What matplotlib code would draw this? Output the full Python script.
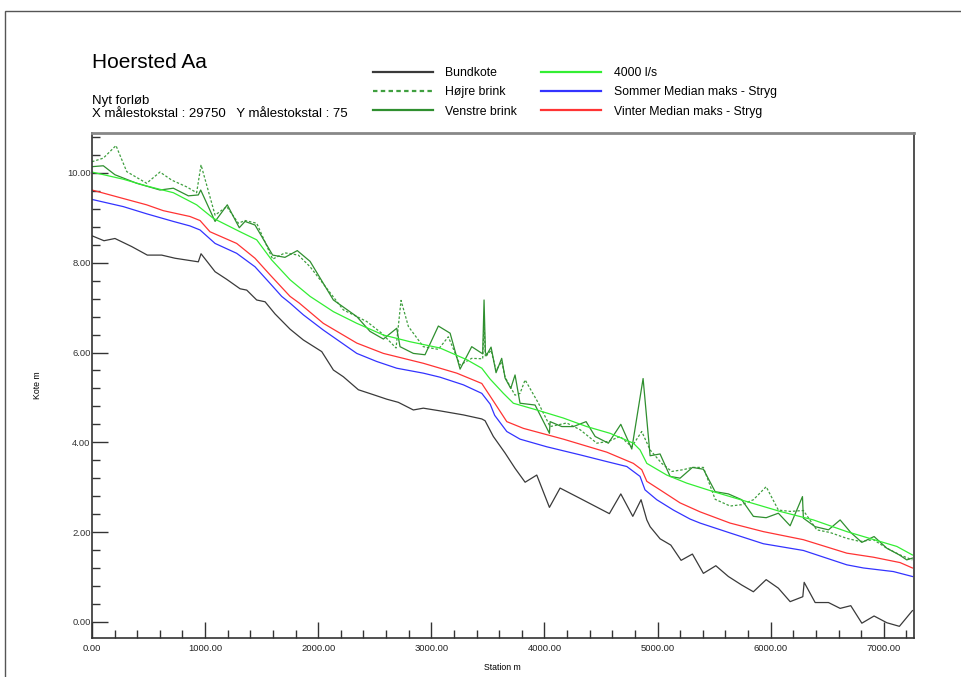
import numpy as np
import matplotlib
matplotlib.use("Agg")
import matplotlib.pyplot as plt
from matplotlib.ticker import MultipleLocator, FormatStrFormatter
from matplotlib.patches import Rectangle

plt.rcParams['font.family'] = ['Liberation Sans', 'DejaVu Sans']

# bundkote (bed level) along the river
bund_st = [0, 106, 203, 351, 489, 616, 734, 837, 940, 964, 1088, 1191, 1309, 1368, 1456, 1530,
           1618, 1751, 1868, 2031, 2134, 2222, 2355, 2488, 2606, 2708, 2841, 2929, 3077, 3283,
           3446, 3475, 3548, 3652, 3740, 3829, 3932, 4044, 4138, 4315, 4574, 4675, 4781, 4854,
           4905, 4934, 5022, 5117, 5208, 5308, 5405, 5515, 5626, 5744, 5847, 5960, 6068, 6172,
           6284, 6296, 6393, 6511, 6614, 6708, 6806, 6914, 7027, 7138, 7253]
bund_z = [8.60, 8.49, 8.54, 8.36, 8.17, 8.17, 8.10, 8.06, 8.02, 8.20, 7.80, 7.63, 7.42, 7.39, 7.17, 7.13,
          6.86, 6.52, 6.28, 6.02, 5.61, 5.46, 5.17, 5.06, 4.96, 4.89, 4.72, 4.76, 4.70, 4.61,
          4.52, 4.48, 4.13, 3.76, 3.42, 3.11, 3.27, 2.55, 2.98, 2.75, 2.41, 2.85, 2.35, 2.72,
          2.27, 2.12, 1.85, 1.71, 1.37, 1.51, 1.08, 1.25, 1.01, 0.82, 0.67, 0.94, 0.75, 0.45,
          0.56, 0.88, 0.43, 0.43, 0.30, 0.36, -0.03, 0.13, -0.02, -0.10, 0.25]

# right bank
hoejre_st = [0, 100, 212, 307, 483, 601, 705, 837, 925, 964, 1088, 1191, 1294, 1353, 1456, 1597,
             1706, 1824, 1928, 2075, 2222, 2429, 2561, 2688, 2732, 2797, 2929, 3062, 3150, 3254,
             3357, 3454, 3466, 3478, 3528, 3572, 3622, 3652, 3702, 3740, 3784, 3829, 3947, 4050,
             4197, 4315, 4463, 4565, 4669, 4772, 4860, 4934, 5037, 5125, 5228, 5308, 5405, 5509,
             5641, 5744, 5847, 5960, 6068, 6172, 6289, 6407, 6525, 6673, 6791, 6908, 7027, 7144, 7253]
hoejre_z = [10.25, 10.33, 10.61, 10.03, 9.77, 10.02, 9.84, 9.69, 9.56, 10.18, 9.06, 9.25, 8.88, 8.94, 8.88, 8.08,
            8.22, 8.17, 7.91, 7.43, 6.95, 6.69, 6.43, 6.10, 7.16, 6.58, 6.13, 6.07, 6.35, 5.72,
            5.87, 5.86, 6.65, 5.90, 6.05, 5.60, 5.80, 5.45, 5.22, 5.05, 5.09, 5.39, 4.87, 4.35,
            4.43, 4.28, 3.98, 4.02, 4.13, 3.90, 4.24, 3.83, 3.53, 3.35, 3.39, 3.44, 3.44, 2.73,
            2.58, 2.61, 2.72, 3.01, 2.49, 2.46, 2.48, 2.05, 1.99, 1.86, 1.79, 1.83, 1.64, 1.49, 1.38]

# left bank
venstre_st = [0, 100, 203, 395, 601, 719, 852, 940, 961, 1088, 1196, 1302, 1353, 1441, 1597, 1706,
              1815, 1928, 2045, 2134, 2341, 2458, 2576, 2694, 2723, 2841, 2944, 3062, 3166, 3254,
              3357, 3454, 3466, 3478, 3490, 3528, 3572, 3622, 3652, 3702, 3740, 3784, 3917, 4044,
              4050, 4153, 4256, 4368, 4448, 4565, 4675, 4772, 4872, 4934, 5022, 5111, 5199, 5308,
              5405, 5509, 5626, 5744, 5847, 5960, 6068, 6172, 6281, 6289, 6393, 6511, 6614, 6708,
              6806, 6914, 7027, 7138, 7203, 7253]
venstre_z = [10.14, 10.16, 9.96, 9.77, 9.62, 9.66, 9.49, 9.51, 9.62, 8.92, 9.29, 8.78, 8.92, 8.84, 8.17, 8.12,
             8.27, 8.03, 7.54, 7.17, 6.80, 6.47, 6.30, 6.54, 6.13, 5.98, 5.95, 6.59, 6.43, 5.63,
             6.13, 5.97, 7.17, 6.00, 5.95, 6.12, 5.55, 5.87, 5.43, 5.20, 5.50, 4.87, 4.83, 4.20,
             4.46, 4.35, 4.35, 4.46, 4.13, 3.98, 4.40, 3.85, 5.42, 3.70, 3.74, 3.24, 3.20, 3.44,
             3.40, 2.90, 2.85, 2.72, 2.35, 2.32, 2.42, 2.14, 2.79, 2.31, 2.12, 2.05, 2.27, 1.99,
             1.77, 1.90, 1.64, 1.49, 1.38, 1.42]

# water level at 4000 l/s
q4000_st = [0, 277, 483, 719, 925, 1072, 1309, 1456, 1589, 1751, 1928, 2134, 2341, 2576, 2812, 3077,
            3313, 3446, 3519, 3637, 3725, 3932, 4167, 4374, 4580, 4786, 4845, 4905, 5081, 5258,
            5494, 5788, 6083, 6378, 6673, 6968, 7115, 7253]
q4000_z = [10.02, 9.86, 9.71, 9.56, 9.29, 8.99, 8.69, 8.51, 8.06, 7.62, 7.25, 6.91, 6.65, 6.39, 6.24, 6.10,
           5.84, 5.65, 5.41, 5.09, 4.87, 4.72, 4.54, 4.35, 4.20, 3.98, 3.83, 3.53, 3.27, 3.09,
           2.90, 2.68, 2.46, 2.27, 2.01, 1.79, 1.68, 1.49]

# summer median max
sommer_st = [0, 277, 483, 719, 866, 955, 1088, 1279, 1441, 1574, 1677, 1751, 1868, 2045, 2193, 2341,
             2517, 2694, 2929, 3077, 3283, 3446, 3520, 3560, 3667, 3784, 4020, 4315, 4551, 4728,
             4845, 4889, 4993, 5140, 5287, 5376, 5641, 5935, 6289, 6673, 6820, 7085, 7253]
sommer_z = [9.41, 9.25, 9.09, 8.92, 8.82, 8.73, 8.43, 8.21, 7.91, 7.54, 7.25, 7.10, 6.84, 6.50, 6.24, 5.98,
            5.80, 5.65, 5.54, 5.45, 5.28, 5.09, 4.85, 4.60, 4.24, 4.07, 3.90, 3.72, 3.57, 3.46,
            3.24, 2.94, 2.72, 2.49, 2.29, 2.20, 1.98, 1.74, 1.59, 1.27, 1.20, 1.12, 1.01]

# winter median max
vinter_st = [0, 277, 483, 630, 866, 955, 1043, 1279, 1441, 1574, 1751, 1833, 2045, 2341, 2576, 2929,
             3225, 3446, 3548, 3667, 3814, 4167, 4551, 4786, 4860, 4905, 5022, 5199, 5376, 5641,
             5935, 6289, 6673, 6908, 7144, 7253]
vinter_z = [9.62, 9.43, 9.29, 9.16, 9.03, 8.94, 8.69, 8.43, 8.10, 7.73, 7.25, 7.10, 6.65, 6.21, 5.98, 5.76,
            5.54, 5.31, 4.92, 4.46, 4.31, 4.07, 3.78, 3.53, 3.39, 3.13, 2.94, 2.65, 2.45, 2.20,
            2.01, 1.83, 1.53, 1.44, 1.32, 1.20]

fig = plt.figure(figsize=(9.62, 6.77), dpi=100)
ax = fig.add_axes([92/962, 1 - 638/677, (914 - 92)/962, (638 - 133)/677])

ax.plot(bund_st, bund_z, color='#3a3a3a', lw=0.9, label='Bundkote')
ax.plot(hoejre_st, hoejre_z, color='#3f9f3f', lw=0.9, ls=(0, (2, 1.5)), label='Højre brink')
ax.plot(venstre_st, venstre_z, color='#2f8f2f', lw=0.9, label='Venstre brink')
ax.plot(q4000_st, q4000_z, color='#33ee33', lw=0.9, label='4000 l/s')
ax.plot(sommer_st, sommer_z, color='#3333ff', lw=0.9, label='Sommer Median maks - Stryg')
ax.plot(vinter_st, vinter_z, color='#ff3333', lw=0.9, label='Vinter Median maks - Stryg')

ax.set_xlim(0, 7267)
ax.set_ylim(-0.36, 10.89)

ax.xaxis.set_major_locator(MultipleLocator(1000))
ax.xaxis.set_minor_locator(MultipleLocator(200))
ax.yaxis.set_major_locator(MultipleLocator(2))
ax.yaxis.set_minor_locator(MultipleLocator(0.4))
ax.xaxis.set_major_formatter(FormatStrFormatter('%.2f'))
ax.yaxis.set_major_formatter(FormatStrFormatter('%.2f'))
ax.tick_params(which='both', direction='in', colors='#333333', labelsize=6.8, width=1)
ax.tick_params(which='major', length=11.5)
ax.tick_params(which='minor', length=5.8)
ax.tick_params(axis='y', pad=1)
ax.tick_params(axis='x', pad=4)
ax.tick_params(axis='x', labelcolor='#222222')

for s in ['left', 'bottom', 'right']:
    ax.spines[s].set_color('#333333')
    ax.spines[s].set_linewidth(1.2)
ax.spines['top'].set_color('#888888')
ax.spines['top'].set_linewidth(2)

fig.text(502/962, 1 - 667/677, 'Station m', ha='center', va='center', fontsize=6.3)
fig.text(37/962, 1 - 385/677, 'Kote m', ha='center', va='center', fontsize=6.3, rotation=90)

fig.text(92/962, 1 - 63/677, 'Hoersted Aa', ha='left', va='center', fontsize=15)
fig.text(92/962, 1 - 101/677, 'Nyt forløb', ha='left', va='center', fontsize=9.5)
fig.text(92/962, 1 - 114/677, 'X målestokstal : 29750   Y målestokstal : 75',
         ha='left', va='center', fontsize=9.5)

leg = fig.legend(loc='upper left', bbox_to_anchor=(373/962, 1 - 67/677), ncol=2,
                 frameon=False, fontsize=8.8, handlelength=4.9, handletextpad=1.0,
                 columnspacing=2.0, labelspacing=0.6, borderpad=0, borderaxespad=0)
for line in leg.get_lines():
    line.set_linewidth(1.6)

# page frame
fig.add_artist(Rectangle((5/962, -0.5), 2, 0.5 + 1 - 11/677, transform=fig.transFigure,
                         fill=False, ec='#555555', lw=1))

plt.savefig('out.png', dpi=100)
